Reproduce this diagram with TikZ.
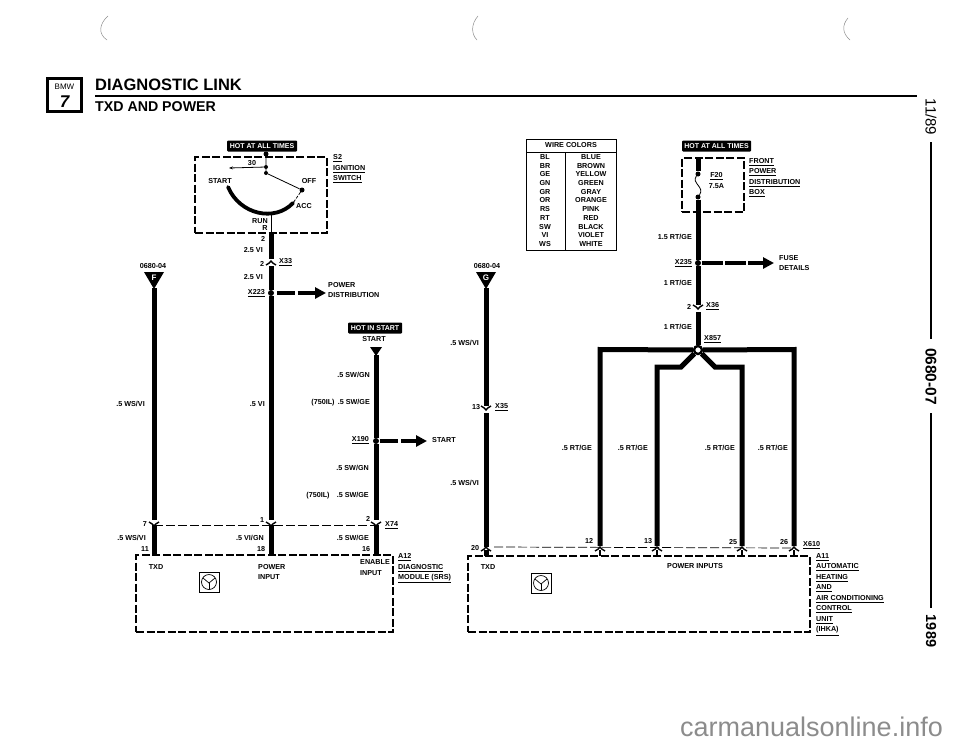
\documentclass[tikz,border=0pt]{standalone}
\usepackage{fontspec}
\setmainfont{Liberation Sans}
\usetikzlibrary{arrows.meta,calc,positioning}

\tikzset{
    lbl/.style={font=\fontsize{7.2}{10.5}\selectfont\bfseries, inner sep=0pt, align=left},
    lblr/.style={lbl, anchor=east},
    lbll/.style={lbl, anchor=west},
    wire/.style={line width=5pt},
    thinwire/.style={line width=0.8pt},
    dashbox/.style={draw, line width=1.3pt, dash pattern=on 8pt off 2.5pt, inner sep=0pt, outer sep=0pt},
    pindash/.style={line width=0.7pt, dash pattern=on 9pt off 3pt},
    forkline/.style={line width=1.4pt},
    hotbox/.style={fill=black, text=white, rounded corners=1pt, font=\fontsize{7}{8}\selectfont\bfseries, inner sep=0pt, minimum height=11pt},
    dotnode/.style={circle, fill=black, inner sep=0pt, minimum size=#1},
    dotnode/.default=6pt,
    feed/.style={line width=4.4pt, -{Triangle[length=11pt,width=11pt]}},
    iconbox/.style={draw, line width=0.8pt, minimum size=20pt, inner sep=0pt},
    scanmark/.style={black!45, line width=0.5pt}
}

% fork of a plug, opening upwards or downwards
\newcommand{\forkcup}[1]{\draw[forkline] ($(#1)+(-5,-3)$) .. controls ($(#1)+(-2,-2)$) and ($(#1)+(-1,0)$) .. ($(#1)+(0,1)$) .. controls ($(#1)+(1,0)$) and ($(#1)+(2,-2)$) .. ($(#1)+(5,-3)$);}
\newcommand{\forkcap}[1]{\draw[forkline] ($(#1)+(-5,3)$) .. controls ($(#1)+(-2,2)$) and ($(#1)+(-1,0)$) .. ($(#1)+(0,-1)$) .. controls ($(#1)+(1,0)$) and ($(#1)+(2,2)$) .. ($(#1)+(5,3)$);}
% airbag symbol
\newcommand{\wheelicon}[1]{
    \draw[line width=0.7pt] (#1) circle (7.5pt);
    \draw[line width=0.7pt] ($(#1)+(-6,-4)$) -- ($(#1)+(0,1)$) -- ($(#1)+(6,-4)$);
    \draw[line width=0.7pt] ($(#1)+(0,1)$) -- ($(#1)+(0,7)$);
}

\begin{document}
\begin{tikzpicture}[x=1pt, y=-1pt]
    \useasboundingbox (0,0) rectangle (960,744);

    % page marks
    \draw[scanmark] (108,16) .. controls (99,24) and (98,34) .. (107,40);
    \draw[scanmark] (478,16) .. controls (471,24) and (471,34) .. (477,40);
    \draw[scanmark] (848,18) .. controls (842,25) and (842,33) .. (850,40);

    % heading
    \node[draw, line width=2.6pt, minimum width=34pt, minimum height=33pt, inner sep=0pt] (logo) at (64.5,95) {};
    \node[font=\fontsize{8}{9}\selectfont, inner sep=0pt] (logobmw) at (64.5,87) {BMW};
    \node[font=\fontsize{17}{18}\selectfont\bfseries\itshape, inner sep=0pt] (logoseven) at (64.5,102) {7};
    \node[anchor=west, font=\fontsize{16.5}{18}\selectfont\bfseries, inner sep=0pt] (title) at (95,84.5) {DIAGNOSTIC LINK};
    \node[anchor=west, font=\fontsize{14.2}{16}\selectfont\bfseries, inner sep=0pt] (subtitle) at (95,107) {TXD AND POWER};
    \coordinate (rulea) at (95,96);
    \coordinate (ruleb) at (917,96);
    \draw[line width=2.2pt] (rulea) -- (ruleb);

    % margin
    \node[rotate=-90, font=\fontsize{15}{16}\selectfont] (date) at (931,117) {11/89};
    \node[rotate=-90, font=\fontsize{15.5}{17}\selectfont\bfseries] (pageno) at (931,376.5) {0680-07};
    \node[rotate=-90, font=\fontsize{14.5}{16}\selectfont\bfseries] (year) at (931,631) {1989};
    \draw[line width=1.5pt] (date) ++(0,25) -- (931,339);
    \draw[line width=1.5pt] (pageno) ++(0,36.5) -- (931,608);

    % ignition switch
    \node[hotbox, minimum width=70pt] (hotign) at (262,146) {HOT AT ALL TIMES};
    \node[dashbox, minimum width=132pt, minimum height=76pt] (s2box) at (261,195) {};
    \node[dotnode=5pt] (swtop) at (266,154) {};
    \node[dotnode=4pt] (swmid) at (266,167) {};
    \node[dotnode=4pt] (swpivot) at (266,173) {};
    \node[dotnode=5pt] (swoff) at (302,190) {};
    \coordinate (swacc) at (293,203);
    \coordinate (swstart) at (228,187);
    \coordinate (swleft) at (229,168);
    \draw[thinwire] (swtop) -- (swmid) -- (swpivot) -- (swoff);
    \draw[thinwire, -{Stealth[length=4pt]}] (swmid) -- (swleft);
    \draw[thinwire, dash pattern=on 3pt off 1.5pt] (swoff) -- (swacc);
    \draw[line width=3.8pt, line cap=round] (swstart) .. controls (240,215) and (275,222) .. (swacc);
    \coordinate (runtop) at (271,215);
    \coordinate (runbot) at (271,234);
    \draw[thinwire] (runtop) -- (runbot);
    \node[lbl] (lthirty) at (252,163) {30};
    \node[lbl] (lstart) at (220,181) {START};
    \node[lbl] (loff) at (309,181) {OFF};
    \node[lbl] (lacc) at (304,206) {ACC};
    \node[lbl] (lrun) at (260,221) {RUN};
    \node[lbl] (lr) at (265,228) {R};
    \node[lbll] (ls2) at (333,169) {\underline{S2}\\\underline{IGNITION}\\\underline{SWITCH}};

    % power wire
    \coordinate (xtt) at (271,262);
    \node[dotnode=6pt] (x223) at (271,293) {};
    \coordinate (pbup) at (271,520);
    \coordinate (pbfork) at (271,525);
    \coordinate (pbpin) at (271,555);
    \coordinate (pdist) at (326,293);
    \draw[wire] (runbot) -- ($(xtt)+(0,-3)$);
    \draw[wire] ($(xtt)+(0,4)$) -- (x223);
    \draw[wire] (x223) -- (pbup);
    \draw[wire] (pbfork) -- (pbpin);
    \forkcap{xtt}
    \draw[feed, dash pattern=on 18pt off 2.5pt, shorten <=3pt] (x223) -- (pdist);
    \node[lbl] (ltwoa) at (263,239) {2};
    \node[lblr] (lvia) at (263,250) {2.5 VI};
    \node[lbl] (ltwob) at (262,264) {2};
    \node[lbll] (lxtt) at (279,262) {\underline{X33}};
    \node[lblr] (lvib) at (263,277) {2.5 VI};
    \node[lblr] (lxtwo) at (265,293) {\underline{X223}};
    \node[lbll] (ldist) at (328,290) {POWER\\DISTRIBUTION};
    \node[lblr] (lvic) at (265,404) {.5 VI};

    % TXD wire, left half
    \fill (144,272) -- (164,272) -- (154,289) -- cycle;
    \coordinate (ftip) at (154,288);
    \node[lbl] (lrefa) at (153,266) {0680-04};
    \node[lbl, text=white, font=\fontsize{8}{9}\selectfont\bfseries] (lf) at (154,277.5) {F};
    \coordinate (txup) at (154,520);
    \coordinate (txfork) at (154,525);
    \coordinate (txpin) at (154,555);
    \draw[wire] (ftip) -- (txup);
    \draw[wire] (txfork) -- (txpin);
    \node[lblr] (lwsa) at (145,404) {.5 WS/VI};

    % start wire
    \node[hotbox, minimum width=54pt] (hotstart) at (375,328) {HOT IN START};
    \node[lbl] (lstartb) at (374,339) {START};
    \fill (370,347) -- (382,347) -- (376,356) -- cycle;
    \coordinate (sttip) at (376,355);
    \node[dotnode=6pt] (xone) at (376,441) {};
    \coordinate (stup) at (376,520);
    \coordinate (stfork) at (376,525);
    \coordinate (stpin) at (376,555);
    \coordinate (stend) at (427,441);
    \draw[wire] (sttip) -- (xone);
    \draw[wire] (xone) -- (stup);
    \draw[wire] (stfork) -- (stpin);
    \draw[feed, dash pattern=on 18pt off 3pt, shorten <=1pt] (xone) -- (stend);
    \node[lblr] (lswa) at (370,375) {.5 SW/GN};
    \node[lblr] (lswb) at (370,403) {(750IL) \,.5 SW/GE};
    \node[lblr] (lxone) at (369,440) {\underline{X190}};
    \node[lbll] (lstartc) at (432,440) {START};
    \node[lblr] (lswc) at (369,468) {.5 SW/GN};
    \node[lblr] (lswd) at (369,496) {(750IL)\quad .5 SW/GE};

    % plug and module A12
    \draw[pindash] (txfork) -- (stfork);
    \forkcup{txfork}
    \forkcup{pbfork}
    \forkcup{stfork}
    \node[lbl] (lseven) at (145,524) {7};
    \node[lbl] (lone) at (262,520) {1};
    \node[lbl] (ltwoc) at (368,519) {2};
    \node[lbll] (lxsf) at (385,525) {\underline{X74}};
    \node[lblr] (lwsb) at (146,538) {.5 WS/VI};
    \node[lblr] (lvig) at (264,538) {.5 VI/GN};
    \node[lblr] (lswe) at (369,538) {.5 SW/GE};
    \node[lbl] (leleven) at (145,549) {11};
    \node[lbl] (leight) at (261,549) {18};
    \node[lbl] (lsixt) at (366,549) {16};
    \node[dashbox, minimum width=257pt, minimum height=77pt] (atwelve) at (264.5,593.5) {};
    \node[lbl] (ltxda) at (156,567) {TXD};
    \node[lbll] (lpower) at (258,572) {POWER\\INPUT};
    \node[lbll] (lenable) at (360,567.5) {ENABLE\\INPUT};
    \node[lbll] (lmod) at (398,568.5) {\underline{A12}\\\underline{DIAGNOSTIC}\\\underline{MODULE (SRS)}};
    \node[iconbox] (icona) at (209,582) {};
    \wheelicon{icona}

    % wire colors table
    \node[draw, line width=0.6pt, minimum width=90pt, minimum height=111pt, inner sep=0pt] (wirebox) at (571,194.5) {};
    \coordinate (hdl) at (526,152);
    \coordinate (hdr) at (616,152);
    \coordinate (divtop) at (565,152);
    \coordinate (divbot) at (565,250);
    \draw[line width=0.6pt] (hdl) -- (hdr);
    \draw[line width=0.6pt] (divtop) -- (divbot);
    \node[lbl] (lcolors) at (571,145.5) {WIRE COLORS};
    \node[lbl, align=center, font=\fontsize{7.2}{8.7}\selectfont\bfseries] (lcodes) at (545,200.5) {BL\\BR\\GE\\GN\\GR\\OR\\RS\\RT\\SW\\VI\\WS};
    \node[lbl, align=center, font=\fontsize{7.2}{8.7}\selectfont\bfseries] (lnames) at (591,200.5) {BLUE\\BROWN\\YELLOW\\GREEN\\GRAY\\ORANGE\\PINK\\RED\\BLACK\\VIOLET\\WHITE};

    % TXD wire, right half
    \fill (476,272) -- (496,272) -- (486,289) -- cycle;
    \coordinate (gtip) at (486,288);
    \node[lbl] (lrefb) at (487,266) {0680-04};
    \node[lbl, text=white, font=\fontsize{8}{9}\selectfont\bfseries] (lg) at (486,277.5) {G};
    \coordinate (xtf) at (486,409);
    \coordinate (rxfork) at (486,548);
    \coordinate (rxpin) at (486,556);
    \draw[wire] (gtip) -- ($(xtf)+(0,-3)$);
    \draw[wire] ($(xtf)+(0,4)$) -- ($(rxfork)+(0,-1)$);
    \draw[wire] ($(rxfork)+(0,2)$) -- (rxpin);
    \forkcup{xtf}
    \node[lblr] (lwsc) at (479,343) {.5 WS/VI};
    \node[lbl] (lthira) at (476,407) {13};
    \node[lbll] (lxtf) at (495,407) {\underline{X35}};
    \node[lblr] (lwsd) at (479,483) {.5 WS/VI};

    % fuse box
    \node[hotbox, minimum width=69pt] (hotfuse) at (716.5,146) {HOT AT ALL TIMES};
    \node[dashbox, minimum width=62pt, minimum height=54pt] (fbox) at (713,185) {};
    \coordinate (ftop) at (698,158);
    \node[dotnode=5pt] (fusea) at (698,174) {};
    \node[dotnode=5pt] (fuseb) at (698,197) {};
    \node[dotnode=6pt] (xtwf) at (698,263) {};
    \coordinate (xts) at (698,308);
    \node[draw, circle, line width=2.4pt, fill=white, inner sep=0pt, minimum size=8pt] (xes) at (698,350) {};
    \coordinate (fdet) at (774,263);
    \draw[wire] (ftop) -- (fusea);
    \draw[thinwire] (fusea) .. controls (691,183) and (705,187) .. (fuseb);
    \draw[wire] (fuseb) -- (xtwf);
    \draw[wire] (xtwf) -- ($(xts)+(0,-3)$);
    \draw[wire] ($(xts)+(0,4)$) -- (xes);
    \forkcup{xts}
    \draw[feed, dash pattern=on 21pt off 2pt, shorten <=1pt] (xtwf) -- (fdet);
    \node[lbl, align=center] (lfuse) at (716.5,180.5) {\underline{F20}\\7.5A};
    \node[lbll] (lfront) at (749,177.5) {\underline{FRONT}\\\underline{POWER}\\\underline{DISTRIBUTION}\\\underline{BOX}};
    \node[lblr] (lrta) at (692,237) {1.5 RT/GE};
    \node[lblr] (lxtwf) at (692,263) {\underline{X235}};
    \node[lbll] (lfd) at (779,263) {FUSE\\DETAILS};
    \node[lblr] (lrtb) at (692,283) {1 RT/GE};
    \node[lbl] (ltwod) at (689,307) {2};
    \node[lbll] (lxts) at (706,306) {\underline{X36}};
    \node[lblr] (lrtc) at (692,327) {1 RT/GE};
    \node[lbll] (lxes) at (704,339) {\underline{X857}};

    % splice to module A11
    \coordinate (pa) at (600,548);
    \coordinate (pb) at (657,548);
    \coordinate (pc) at (742,548);
    \coordinate (pd) at (794,548);
    \draw[wire, line join=miter] (xes) -- (600,349.5) -- ($(pa)+(0,-2)$);
    \draw[wire, line join=miter] (xes) -- (794,349.5) -- ($(pd)+(0,-2)$);
    \draw[wire, line join=miter] (xes) -- (681,367) -- (657,367) -- ($(pb)+(0,-2)$);
    \draw[wire, line join=miter] (xes) -- (715,367) -- (742,367) -- ($(pc)+(0,-2)$);
    \draw[pindash] (rxfork) ++(8,-1) -- (pd);
    \forkcap{rxfork}
    \forkcap{pa}
    \forkcap{pb}
    \forkcap{pc}
    \forkcap{pd}
    \draw[line width=2.2pt] (pa) ++(0,2) -- ++(0,6);
    \draw[line width=2.2pt] (pb) ++(0,2) -- ++(0,6);
    \draw[line width=2.2pt] (pc) ++(0,2) -- ++(0,6);
    \draw[line width=2.2pt] (pd) ++(0,2) -- ++(0,6);
    \node[lblr] (lrtd) at (592,448) {.5 RT/GE};
    \node[lblr] (lrte) at (648,448) {.5 RT/GE};
    \node[lblr] (lrtf) at (735,448) {.5 RT/GE};
    \node[lblr] (lrtg) at (788,448) {.5 RT/GE};
    \node[lbl] (ltwenty) at (475,548) {20};
    \node[lbl] (ltwelve) at (589,541) {12};
    \node[lbl] (lthirb) at (648,541) {13};
    \node[lbl] (ltf) at (733,542) {25};
    \node[lbl] (lts) at (784,542) {26};
    \node[lbll] (lxsix) at (803,545) {\underline{X610}};
    \node[dashbox, minimum width=342pt, minimum height=76pt] (aeleven) at (639,594) {};
    \node[lbl] (ltxdb) at (488,567) {TXD};
    \node[lbl] (linputs) at (695,566) {POWER INPUTS};
    \node[lbll] (lauto) at (816,594.5) {\underline{A11}\\\underline{AUTOMATIC}\\\underline{HEATING}\\\underline{AND}\\\underline{AIR CONDITIONING}\\\underline{CONTROL}\\\underline{UNIT}\\\underline{(IHKA)}};
    \node[iconbox] (iconb) at (541,583) {};
    \wheelicon{iconb}

    % bottom of the scan
    \node[text=black!45, font=\fontsize{27}{28}\selectfont, inner sep=0pt] (site) at (811.5,727) {carmanualsonline.info};
\end{tikzpicture}
\end{document}
